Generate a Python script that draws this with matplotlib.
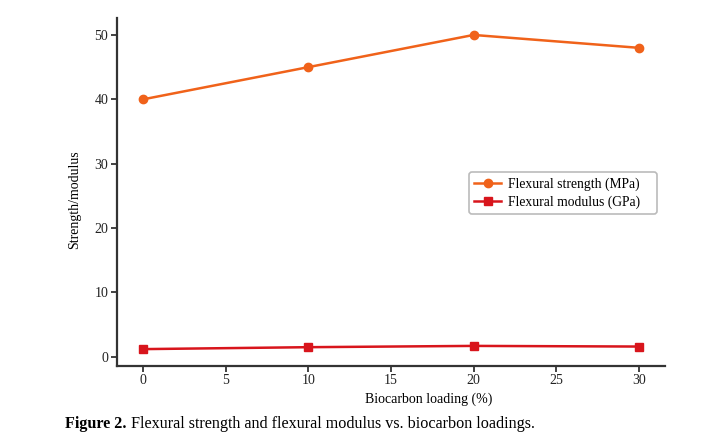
import matplotlib.pyplot as plt

plt.rcParams["font.family"] = "Liberation Serif"

loading = [0, 10, 20, 30]
strength = [40, 45, 50, 48]
modulus = [1.2, 1.5, 1.7, 1.6]
xticks = [0, 5, 10, 15, 20, 25, 30]
yticks = [0, 10, 20, 30, 40, 50]

fig = plt.figure(figsize=(7.16, 4.44), dpi=100)
ax = fig.add_axes([0.163, 0.176, 0.766, 0.783])

ax.plot(loading, strength, color="#F0621A", marker="o", markersize=6,
        linewidth=1.8, label="Flexural strength (MPa)")
ax.plot(loading, modulus, color="#D8151C", marker="s", markersize=6,
        linewidth=1.8, label="Flexural modulus (GPa)")

ax.set_xlim(-1.6, 31.6)
ax.set_ylim(-1.4, 52.6)
ax.set_xticks(xticks)
ax.set_yticks(yticks)
ax.tick_params(direction="out", length=4, width=1.2, pad=2, labelsize=10, colors="#222222")
for s in ["top", "right"]:
    ax.spines[s].set_visible(False)
for s in ["left", "bottom"]:
    ax.spines[s].set_linewidth(1.6)
    ax.spines[s].set_color("#333333")

ax.set_xlabel("Biocarbon loading (%)", fontsize=10)
ax.xaxis.set_label_coords(0.569, -0.077)
ax.set_ylabel("Strength/modulus", fontsize=10)
ax.yaxis.set_label_coords(-0.064, 0.477)

leg = ax.legend(loc="upper left", bbox_to_anchor=(0.642, 0.557, 0.343, 0.0),
                mode="expand", borderaxespad=0,
                fontsize=9.8, frameon=True, fancybox=True, edgecolor="#aaaaaa",
                handlelength=1.95, borderpad=0.4, labelspacing=0.3, handletextpad=0.5)
leg.get_frame().set_linewidth(1.2)

# caption: bold prefix followed by regular text
fig.canvas.draw()
renderer = fig.canvas.get_renderer()
t1 = fig.text(0.091, 0.045, "Figure 2.", fontsize=11.6, fontweight="bold", va="center")
bb = t1.get_window_extent(renderer)
x2 = (bb.x1 + 4) / fig.bbox.width
fig.text(x2, 0.045, "Flexural strength and flexural modulus vs. biocarbon loadings.",
         fontsize=11.6, va="center")

fig.savefig("out.png", dpi=100)
